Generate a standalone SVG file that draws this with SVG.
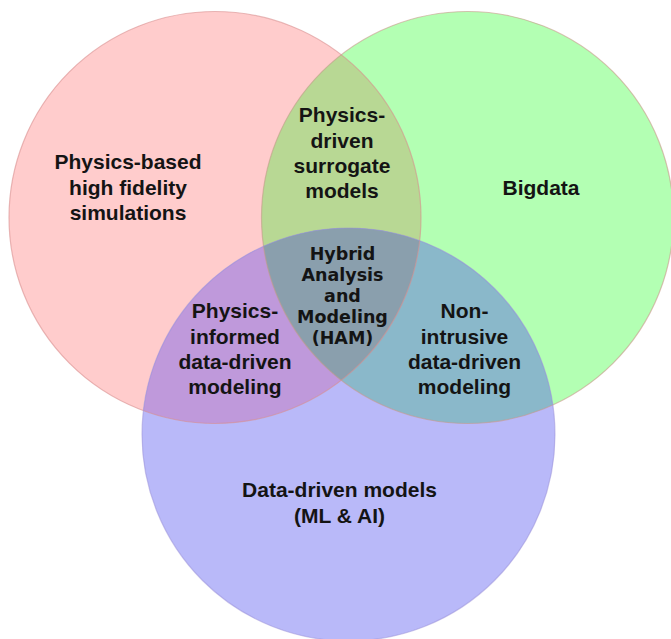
<svg xmlns="http://www.w3.org/2000/svg" width="671" height="639" viewBox="0 0 671 639">
  <style>
    .lbl { font-family: "Liberation Sans", Arial, sans-serif; font-weight: bold; font-size: 21px; fill: #141414; text-anchor: middle; }
    .ham { font-family: "DejaVu Sans", Verdana, sans-serif; font-weight: bold; font-size: 17.5px; fill: #141414; text-anchor: middle; }
    .edge { fill: none; stroke-width: 1.2; }
  </style>
  <defs>
    <clipPath id="clipRed"><circle cx="215" cy="217.5" r="206"/></clipPath>
    <clipPath id="clipGreen"><circle cx="467.5" cy="217.5" r="206"/></clipPath>
    <clipPath id="clipBlue"><circle cx="348.5" cy="434.5" r="206.5"/></clipPath>
  </defs>
  <rect width="671" height="639" fill="#ffffff"/>

  <g id="circle-physics">
    <circle cx="215" cy="217.5" r="206" fill="#ffcccc"/>
  </g>
  <g id="circle-bigdata">
    <circle cx="467.5" cy="217.5" r="206" fill="#b3ffb3"/>
  </g>
  <g id="circle-datadriven">
    <circle cx="348.5" cy="434.5" r="206.5" fill="#b9b9f9"/>
  </g>

  <g id="overlaps">
    <circle cx="467.5" cy="217.5" r="206" fill="#b8d894" clip-path="url(#clipRed)"/>
    <circle cx="348.5" cy="434.5" r="206.5" fill="#bf99db" clip-path="url(#clipRed)"/>
    <circle cx="348.5" cy="434.5" r="206.5" fill="#8ab8ca" clip-path="url(#clipGreen)"/>
    <g clip-path="url(#clipRed)">
      <circle cx="348.5" cy="434.5" r="206.5" fill="#8a9fad" clip-path="url(#clipGreen)"/>
    </g>
  </g>

  <g id="outlines">
    <circle class="edge" cx="215" cy="217.5" r="206" stroke="#d88f8f" stroke-opacity="0.6"/>
    <circle class="edge" cx="467.5" cy="217.5" r="206" stroke="#c89a8a" stroke-opacity="0.6"/>
    <circle class="edge" cx="348.5" cy="434.5" r="206.5" stroke="#9a8fd8" stroke-opacity="0.5"/>
  </g>

  <g id="label-physics-based">
    <text class="lbl" x="128" y="169">Physics-based</text>
    <text class="lbl" x="128" y="194.5">high fidelity</text>
    <text class="lbl" x="128" y="220">simulations</text>
  </g>
  <g id="label-bigdata">
    <text class="lbl" x="541" y="195">Bigdata</text>
  </g>
  <g id="label-surrogate">
    <text class="lbl" x="342" y="122">Physics-</text>
    <text class="lbl" x="342" y="147.5">driven</text>
    <text class="lbl" x="342" y="172.5">surrogate</text>
    <text class="lbl" x="342" y="198">models</text>
  </g>
  <g id="label-ham">
    <text class="ham" x="342.5" y="260">Hybrid</text>
    <text class="ham" x="342.5" y="281">Analysis</text>
    <text class="ham" x="342.5" y="302">and</text>
    <text class="ham" x="342.5" y="323">Modeling</text>
    <text class="ham" x="342.5" y="344">(HAM)</text>
  </g>
  <g id="label-physics-informed">
    <text class="lbl" x="235" y="318">Physics-</text>
    <text class="lbl" x="235" y="343.5">informed</text>
    <text class="lbl" x="235" y="368.5">data-driven</text>
    <text class="lbl" x="235" y="393.5">modeling</text>
  </g>
  <g id="label-non-intrusive">
    <text class="lbl" x="464.5" y="318">Non-</text>
    <text class="lbl" x="464.5" y="343.5">intrusive</text>
    <text class="lbl" x="464.5" y="368.5">data-driven</text>
    <text class="lbl" x="464.5" y="393.5">modeling</text>
  </g>
  <g id="label-data-driven">
    <text class="lbl" x="339.5" y="497">Data-driven models</text>
    <text class="lbl" x="339.5" y="522.5">(ML &amp; AI)</text>
  </g>
</svg>
